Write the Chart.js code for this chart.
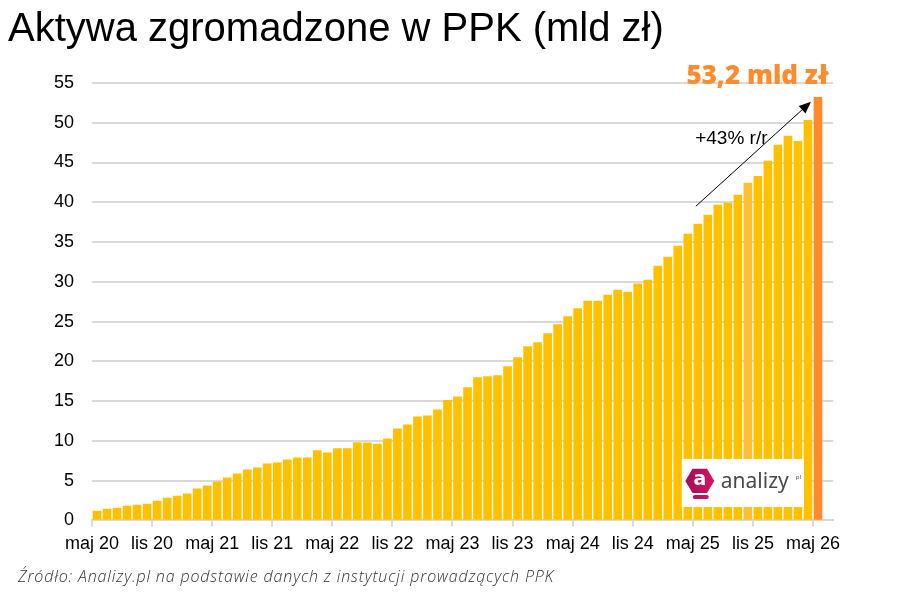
<!DOCTYPE html>
<html>
<head>
<meta charset="utf-8">
<script src="https://cdn.jsdelivr.net/npm/chart.js@4.4.1/dist/chart.umd.min.js"></script>
<style>
  body { margin: 0; background: #fff; }
  #wrap { position: relative; width: 897px; height: 606px; }
  #source {
    position: absolute; left: 18px; top: 565px;
    font: italic 300 16px "Open Sans", sans-serif; color: #333;
    letter-spacing: 0.85px;
  }
</style>
</head>
<body>
<div id="wrap">
  <canvas id="ppk" width="897" height="606"></canvas>
  <div id="source">Źródło: Analizy.pl na podstawie danych z instytucji prowadzących PPK</div>
</div>
<script>
// Miesiące od maj 2020 do maj 2026
const monthNames = ['sty', 'lut', 'mar', 'kwi', 'maj', 'cze', 'lip', 'sie', 'wrz', 'paź', 'lis', 'gru'];
const months = [];
for (let i = 0; i < 73; i++) {
    const m = (4 + i) % 12;
    const y = 20 + Math.floor((4 + i) / 12);
    months.push(monthNames[m] + ' ' + y);
}
months.push(''); // pusty miesiąc po prawej

// Aktywa PPK, mld zł
const assets = [
    1.18, 1.43, 1.56, 1.81, 1.94, 2.06, 2.44, 2.82, 3.07, 3.33, 3.96, 4.34,
    4.84, 5.35, 5.85, 6.36, 6.61, 7.12, 7.24, 7.62, 7.88, 7.88, 8.77, 8.51,
    9.02, 9.02, 9.78, 9.75, 9.60, 10.26, 11.52, 12.02, 13.03, 13.16, 13.91, 15.09,
    15.55, 16.69, 17.95, 18.08, 18.20, 19.34, 20.47, 21.86, 22.36, 23.50, 24.63, 25.62,
    26.62, 27.58, 27.58, 28.33, 28.96, 28.71, 29.74, 30.22, 31.98, 33.12, 34.50, 36.00,
    37.26, 38.39, 39.64, 39.90, 40.90, 42.41, 43.28, 45.17, 47.18, 48.31, 47.68, 50.31,
    53.2
];

const yTicks = [0, 5, 10, 15, 20, 25, 30, 35, 40, 45, 50, 55];

const YELLOW = '#FFC000';
const LIGHT = '#FFBF33';
const ORANGE = '#FF8B2C';
const FONT = '"Liberation Sans", Arial, sans-serif';

// Adnotacje: strzałka, opisy, logo
const annotations = {
    id: 'annotations',
    afterDatasetsDraw(chart) {
        const c = chart.ctx;
        const x = chart.scales.x, y = chart.scales.y;

        // logo analizy.pl
        const lx0 = x.getPixelForValue(58.4), lx1 = x.getPixelForValue(70.6);
        const ly0 = y.getPixelForValue(7.73), ly1 = y.getPixelForValue(1.68);
        c.save();
        c.fillStyle = '#fff';
        c.fillRect(lx0, ly0, lx1 - lx0, ly1 - ly0);
        const cx = lx0 + 18, cy = ly0 + 22, r = 14.5;
        const grad = c.createLinearGradient(cx - r, cy, cx + r, cy);
        grad.addColorStop(0, '#9C0F5A');
        grad.addColorStop(1, '#D8155F');
        c.fillStyle = grad;
        c.beginPath();
        for (let k = 0; k < 6; k++) {
            const a = Math.PI / 3 * k;
            const px = cx + r * Math.cos(a), py = cy + r * Math.sin(a) * 0.96;
            if (k === 0) c.moveTo(px, py); else c.lineTo(px, py);
        }
        c.closePath();
        c.fill();
        c.beginPath();
        c.roundRect(cx - 7, cy + 14, 16, 4, 2);
        c.fill();
        c.fillStyle = '#fff';
        c.font = 'bold 19px "DejaVu Sans", sans-serif';
        c.textAlign = 'center';
        c.textBaseline = 'middle';
        c.fillText('a', cx, cy - 1);
        c.fillStyle = '#4a4a4a';
        c.font = '21px "Noto Sans", sans-serif';
        c.textAlign = 'left';
        c.fillText('analizy', cx + 21, cy + 1);
        c.font = '6px "Noto Sans", sans-serif';
        c.fillText('pl', cx + 96, cy - 4);
        c.restore();

        // strzałka +43% r/r
        const ax0 = x.getPixelForValue(59.8), ay0 = y.getPixelForValue(39.5);
        const ax1 = x.getPixelForValue(71.3), ay1 = y.getPixelForValue(52.65);
        const ang = Math.atan2(ay1 - ay0, ax1 - ax0);
        c.save();
        c.strokeStyle = '#000';
        c.fillStyle = '#000';
        c.lineWidth = 1;
        c.beginPath();
        c.moveTo(ax0, ay0);
        c.lineTo(ax1 - 8 * Math.cos(ang), ay1 - 8 * Math.sin(ang));
        c.stroke();
        c.beginPath();
        c.moveTo(ax1, ay1);
        c.lineTo(ax1 - 12 * Math.cos(ang) + 5 * Math.sin(ang), ay1 - 12 * Math.sin(ang) - 5 * Math.cos(ang));
        c.lineTo(ax1 - 12 * Math.cos(ang) - 5 * Math.sin(ang), ay1 - 12 * Math.sin(ang) + 5 * Math.cos(ang));
        c.closePath();
        c.fill();

        c.font = '19px ' + FONT;
        c.textAlign = 'center';
        c.textBaseline = 'middle';
        c.fillText('+43% r/r', x.getPixelForValue(63.35), y.getPixelForValue(47.96));

        c.fillStyle = ORANGE;
        c.font = '800 26px "Open Sans", sans-serif';
        c.fillText('53,2 mld zł', x.getPixelForValue(65.97), y.getPixelForValue(55.8));
        c.restore();
    }
};

const ctx = document.getElementById('ppk').getContext('2d');
const chart = new Chart(ctx, {
    type: 'bar',
    data: {
        labels: months,
        datasets: [{
            data: assets,
            backgroundColor: (c) => c.dataIndex === assets.length - 1 ? ORANGE : (c.dataIndex === 65 ? LIGHT : YELLOW),
            barThickness: 8,
            borderWidth: 0
        }]
    },
    options: {
        responsive: false,
        animation: false,
        layout: { padding: { left: 8, right: 64, top: 0, bottom: 44 } },
        plugins: {
            legend: { display: false },
            tooltip: { enabled: false },
            title: {
                display: true,
                text: 'Aktywa zgromadzone w PPK (mld zł)',
                align: 'start',
                color: '#000',
                font: { size: 40, family: FONT, weight: 'normal' },
                padding: { top: 6, bottom: 29 }
            }
        },
        scales: {
            x: {
                offset: true,
                grid: {
                    offset: true,
                    drawOnChartArea: false,
                    tickLength: 6,
                    lineWidth: 2,
                    color: (c) => c.index % 6 === 0 ? '#d9d9d9' : 'rgba(0,0,0,0)'
                },
                border: { display: true, color: '#d9d9d9', width: 2 },
                ticks: {
                    autoSkip: false,
                    maxRotation: 0,
                    labelOffset: -5,
                    padding: 7,
                    color: '#000',
                    font: { size: 18, family: FONT },
                    callback: (v, i) => i % 6 === 0 ? months[i] : ''
                }
            },
            y: {
                min: 0,
                max: 55,
                afterFit: (s) => { s.width = 84; },
                afterBuildTicks: (s) => { s.ticks = yTicks.map(v => ({ value: v })); },
                grid: { color: '#d9d9d9', lineWidth: 2, drawTicks: false },
                border: { display: false },
                ticks: {
                    padding: 18,
                    color: '#000',
                    font: { size: 18, family: FONT }
                }
            }
        }
    },
    plugins: [annotations]
});
</script>
</body>
</html>
